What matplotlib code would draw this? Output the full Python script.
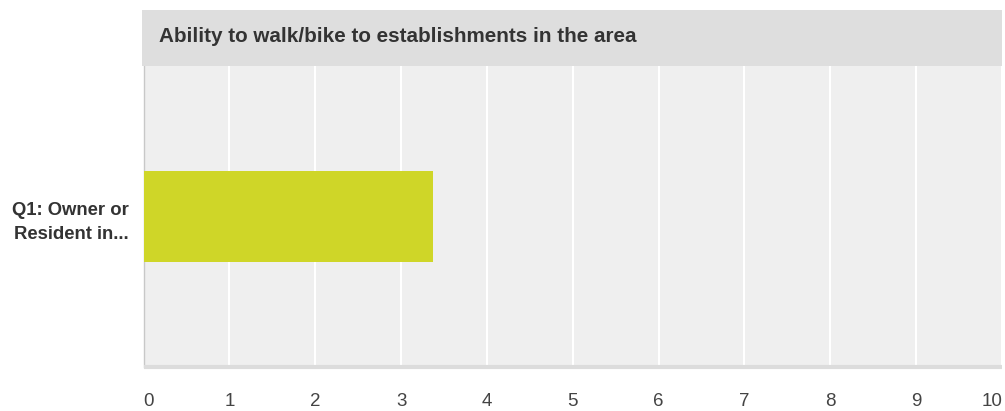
import matplotlib
matplotlib.use("Agg")
import matplotlib.pyplot as plt
from matplotlib.patches import Rectangle

categories = ["Q1: Owner or\nResident in..."]
values = [3.37]
title = "Ability to walk/bike to establishments in the area"
xticks = [0, 1, 2, 3, 4, 5, 6, 7, 8, 9, 10]

plt.rcParams['font.family'] = ['Liberation Sans', 'DejaVu Sans']

W, H = 1005, 411
fig = plt.figure(figsize=(W / 100, H / 100), dpi=100)
fig.patch.set_facecolor("white")

left, right = 143.5, 1002
top, bottom = 66, 367
ax = fig.add_axes([left / W, 1 - bottom / H, (right - left) / W, (bottom - top) / H])
ax.set_facecolor("#efefef")

# title band
band = Rectangle((142 / W, 1 - 66 / H), (1002 - 142) / W, 56 / H,
                 transform=fig.transFigure, facecolor="#dedede", edgecolor="none")
fig.patches.append(band)
fig.text(159 / W, 1 - 37 / H, title, fontsize=14.9, fontweight="bold",
         color="#333333", va="center", ha="left")

ypos = list(range(len(categories)))
ax.barh(ypos, values, height=0.3, color="#cfd628", zorder=3)

ax.set_xlim(0, 10)
ax.set_ylim(-0.5, 0.5)
ax.set_xticks(xticks)
ax.set_xticklabels([str(t) for t in xticks])
ax.set_yticks(ypos)
ax.set_yticklabels(categories, fontweight="bold", fontsize=13.3, color="#333333",
                   linespacing=1.55)
for lbl in ax.get_yticklabels():
    lbl.set_horizontalalignment("right")
ax.tick_params(axis="y", length=0, pad=10.5)
ax.tick_params(axis="x", length=0, pad=18.5, labelsize=13.5, labelcolor="#444444")
xl = ax.get_xticklabels()
xl[0].set_horizontalalignment("left")
xl[-1].set_horizontalalignment("right")

ax.grid(axis="x", color="white", linewidth=1.5, zorder=1)
ax.set_axisbelow(True)
for s in ["top", "right"]:
    ax.spines[s].set_visible(False)
ax.spines["left"].set_color("#c8c8c8")
ax.spines["left"].set_linewidth(1)
ax.spines["bottom"].set_color("#dcdcdc")
ax.spines["bottom"].set_linewidth(3)
ax.spines["bottom"].set_capstyle("butt")

fig.savefig("out.png", dpi=100)
